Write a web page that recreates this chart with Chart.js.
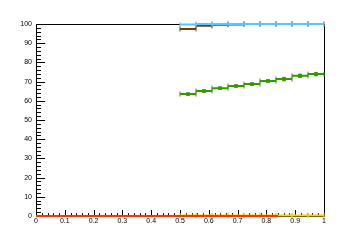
<!DOCTYPE html>
<html>
<head>
<meta charset="utf-8">
<script src="https://cdn.jsdelivr.net/npm/chart.js@4.4.1/dist/chart.umd.min.js"></script>
<style>
  html, body { margin: 0; padding: 0; background: #fff; }
  #wrap { width: 360px; height: 240px; }
</style>
</head>
<body>
<div id="wrap"><canvas id="effChart" width="360" height="240"></canvas></div>
<script>
// bin edges shared by the binned series (0.5 .. 1, 9 bins)
const binEdges = [0.5, 0.5556, 0.6111, 0.6667, 0.7222, 0.7778, 0.8333, 0.8889, 0.9444, 1.0];
const blueValues = [99.7, 100, 100, 100, 100, 100, 100, 100, 100];
const brownValues = [97.4, 99.1, 99.6, 99.8, 100, 100, 100, 100, 100];
const greenValues = [63.5, 65.1, 66.6, 67.7, 68.7, 70.3, 71.3, 73.0, 73.9];
const greenErrors = [0.5, 0.5, 0.5, 0.5, 0.5, 0.6, 0.9, 0.9, 0.9];
const yellowValues = [0.3, 0.3, 0.3, 0.3, 0.3, 0.3, 0.3, 0.3, 0.3];
const redEdges = [0, 0.84];
const redValues = [0];

const xTicks = [0, 0.1, 0.2, 0.3, 0.4, 0.5, 0.6, 0.7, 0.8, 0.9, 1];
const yTicks = [0, 10, 20, 30, 40, 50, 60, 70, 80, 90, 100];

// horizontal segment per bin, broken with a null point
function binSegments(edges, values) {
    const pts = [];
    values.forEach(function (v, i) {
        pts.push({x: edges[i], y: v}, {x: edges[i + 1], y: v}, {x: edges[i + 1], y: null});
    });
    return pts;
}

// vertical error bars at the bin centres
function yErrorSegments(edges, values, errs) {
    const pts = [];
    values.forEach(function (v, i) {
        const c = (edges[i] + edges[i + 1]) / 2;
        pts.push({x: c, y: v - errs[i]}, {x: c, y: v + errs[i]}, {x: c, y: null});
    });
    return pts;
}

function centres(edges, values) {
    return values.map(function (v, i) {
        return {x: (edges[i] + edges[i + 1]) / 2, y: v};
    });
}

function segSet(data, color, capRadius) {
    return {
        data: data,
        showLine: true,
        borderColor: color,
        backgroundColor: color,
        borderWidth: 2,
        pointStyle: 'line',
        rotation: 90,
        pointRadius: capRadius,
        pointBorderWidth: 1,
        pointBorderColor: color,
        spanGaps: false,
        clip: 6
    };
}

// ROOT-like frame with inward ticks
const rootFrame = {
    id: 'rootFrame',
    beforeDatasetsDraw(chart) {
        const ctx = chart.ctx;
        const a = chart.chartArea;
        const x = chart.scales.x;
        const y = chart.scales.y;
        ctx.save();
        ctx.strokeStyle = '#000';
        ctx.lineWidth = 1;
        const l = Math.round(a.left) + 0.5, r = Math.round(a.right) + 0.5;
        const t = Math.round(a.top) + 0.5, b = Math.round(a.bottom) + 0.5;
        ctx.beginPath();
        ctx.rect(l, t, r - l, b - t);
        for (let i = 0; i <= 50; i++) {
            const px = Math.round(x.getPixelForValue(i / 50)) + 0.5;
            const len = i % 5 === 0 ? 6.5 : 3.3;
            ctx.moveTo(px, b);
            ctx.lineTo(px, b - len);
        }
        for (let j = 0; j <= 50; j++) {
            const py = Math.round(y.getPixelForValue(j * 2)) + 0.5;
            const len = j % 5 === 0 ? 8.7 : 4.5;
            ctx.moveTo(l, py);
            ctx.lineTo(l + len, py);
        }
        ctx.stroke();
        ctx.restore();
    }
};

const ctx = document.getElementById('effChart').getContext('2d');
new Chart(ctx, {
    type: 'scatter',
    data: {
        datasets: [
            segSet(binSegments(binEdges, blueValues), '#58c6ff', 2.5),
            segSet(binSegments(binEdges, brownValues), '#7a3d00', 2.5),
            segSet(binSegments(binEdges, greenValues), '#339900', 2.5),
            Object.assign(segSet(yErrorSegments(binEdges, greenValues, greenErrors), '#339900', 1.5), {rotation: 0, borderWidth: 1.5}),
            {
                data: centres(binEdges, greenValues),
                pointStyle: 'rect',
                pointRadius: 2.6,
                backgroundColor: '#339900',
                borderColor: '#339900',
                pointBorderWidth: 0,
                clip: 6
            },
            segSet(binSegments(redEdges, redValues), '#ff3300', 0),
            segSet(binSegments(binEdges, yellowValues), '#ffcc00', 2.5)
        ]
    },
    options: {
        responsive: false,
        animation: false,
        layout: {padding: {top: 24, right: 36, left: 0, bottom: 0}},
        plugins: {
            legend: {display: false},
            tooltip: {enabled: false}
        },
        scales: {
            x: {
                type: 'linear',
                min: 0,
                max: 1,
                afterFit: function (s) { s.height = 24; },
                afterBuildTicks: function (s) { s.ticks = xTicks.map(function (v) { return {value: v}; }); },
                grid: {display: false, drawTicks: false},
                border: {display: false},
                ticks: {
                    autoSkip: false,
                    maxRotation: 0,
                    padding: 1,
                    color: '#000',
                    font: {family: 'Liberation Sans', size: 7},
                    callback: function (v) { return String(+v.toFixed(1)); }
                }
            },
            y: {
                min: 0,
                max: 100,
                afterFit: function (s) { s.width = 36; },
                afterBuildTicks: function (s) { s.ticks = yTicks.map(function (v) { return {value: v}; }); },
                grid: {display: false, drawTicks: false},
                border: {display: false},
                ticks: {
                    padding: 4,
                    color: '#000',
                    font: {family: 'Liberation Sans', size: 7},
                    callback: function (v) { return String(v); }
                }
            }
        }
    },
    plugins: [rootFrame]
});
</script>
</body>
</html>
